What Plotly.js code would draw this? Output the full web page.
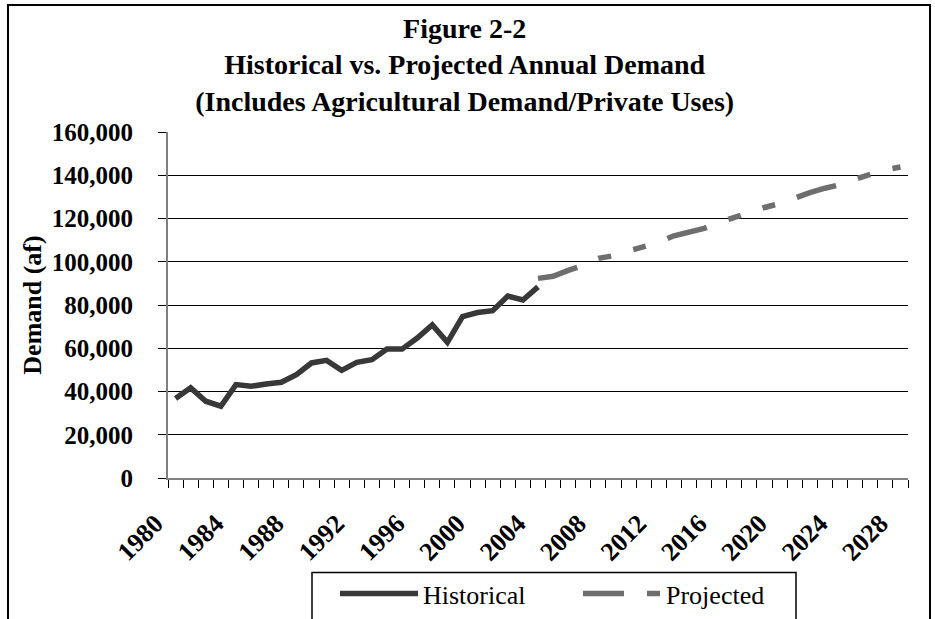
<!DOCTYPE html>
<html>
<head>
<meta charset="utf-8">
<script src="https://cdn.plot.ly/plotly-3.0.1.min.js"></script>
<style>
  html, body { margin: 0; padding: 0; background: #fff; }
  #chart { position: absolute; left: 0; top: 0; width: 935px; height: 619px; }
  #frame { position: absolute; left: 7px; top: 4px; width: 920px; height: 640px; border: 2px solid #000; pointer-events: none; }
</style>
</head>
<body>
<div id="chart"></div>
<div id="frame"></div>
<script>
const histYears = [1980,1981,1982,1983,1984,1985,1986,1987,1988,1989,1990,1991,1992,1993,1994,1995,1996,1997,1998,1999,2000,2001,2002,2003,2004];
const histDemand = [36800,41700,35500,33200,43200,42400,43500,44300,47800,53200,54400,49800,53500,54700,59600,59600,64700,70800,62700,74600,76500,77400,84100,82300,88400];
const projYears = [2004,2005,2006,2007,2008,2009,2010,2011,2012,2013,2014,2015,2016,2017,2018,2019,2020,2021,2022,2023,2024,2025,2026,2027,2028];
const projDemand = [92300,93300,96000,98400,101600,102800,105000,107000,109000,112000,113600,115400,118200,120700,123200,125100,126900,129700,132000,134000,135600,138200,140200,142500,143800];
const xTickVals = [1980,1984,1988,1992,1996,2000,2004,2008,2012,2016,2020,2024,2028];
const xTickText = ['1980','1984','1988','1992','1996','2000','2004','2008','2012','2016','2020','2024','2028'];
const boundaryTicks = [];
for (let y = 1979.5; y <= 2028.6; y += 1) boundaryTicks.push(y);

const serif = 'Liberation Serif, Times New Roman, serif';

const traces = [
  { x: histYears, y: histDemand, type: 'scatter', mode: 'lines', name: 'Historical',
    line: { color: '#383838', width: 5.5 } },
  { x: projYears, y: projDemand, type: 'scatter', mode: 'lines', name: 'Projected',
    line: { color: '#6e6e6e', width: 5.5, dash: '41px,23px,13px,23px,13px,23px' } }
];

// legend frame, in paper coordinates of the 740x346.6 plot area
const plotL = 168, plotW = 740, plotB = 478.3, plotH = 346.6;
const px2x = v => (v - plotL) / plotW;
const px2y = v => (plotB - v) / plotH;

const layout = {
  width: 935, height: 619,
  paper_bgcolor: '#fff', plot_bgcolor: '#fff',
  margin: { l: 168, r: 27, t: 132, b: 141 },
  showlegend: true,
  title: {
    text: '<b>Figure 2-2<br>Historical vs. Projected Annual Demand<br>(Includes Agricultural Demand/Private Uses)</b>',
    font: { family: serif, size: 28, color: '#000' },
    x: 0.497, xref: 'container', xanchor: 'center',
    y: 1 - 38/619, yref: 'container', yanchor: 'top'
  },
  xaxis: {
    range: [1979.5, 2028.5],
    tickmode: 'array', tickvals: xTickVals, ticktext: xTickText,
    tickangle: -45, ticks: '',
    tickfont: { family: serif, size: 26, color: '#000', weight: 'bold' },
    ticklabelshift: -20, ticklabelstandoff: 18,
    showgrid: false, zeroline: false,
    showline: true, linecolor: '#7f7f7f', linewidth: 2,
    minor: { tickmode: 'array', tickvals: boundaryTicks, ticks: 'outside', ticklen: 8, tickcolor: '#000', tickwidth: 1, showgrid: false },
    automargin: false, fixedrange: true
  },
  yaxis: {
    range: [0, 160000], tickmode: 'linear', tick0: 0, dtick: 20000,
    tickformat: ',d',
    ticks: 'outside', ticklen: 8, tickcolor: '#000', tickwidth: 1,
    tickfont: { family: serif, size: 25, color: '#000', weight: 'bold' },
    ticklabelstandoff: 20,
    showgrid: true, gridcolor: '#000', gridwidth: 1,
    zeroline: false,
    showline: true, linecolor: '#7f7f7f', linewidth: 2,
    title: { text: '<b>Demand (af)</b>', font: { family: serif, size: 26, color: '#000' }, standoff: 3 },
    automargin: false, fixedrange: true
  },
  legend: {
    orientation: 'h', xref: 'container', yref: 'container',
    x: 335/935, xanchor: 'left', y: 1 - 570/619, yanchor: 'top',
    bgcolor: 'rgba(0,0,0,0)', borderwidth: 0,
    font: { family: serif, size: 26, color: '#000' },
    itemwidth: 78, entrywidth: 150, entrywidthmode: 'pixels'
  },
  shapes: [
    { type: 'rect', xref: 'paper', yref: 'paper', layer: 'below',
      x0: px2x(312), x1: px2x(796), y0: px2y(573), y1: px2y(650),
      line: { color: '#000', width: 1.5 }, fillcolor: '#fff' }
  ]
};

Plotly.newPlot('chart', traces, layout, { staticPlot: true, displayModeBar: false });
</script>
</body>
</html>
